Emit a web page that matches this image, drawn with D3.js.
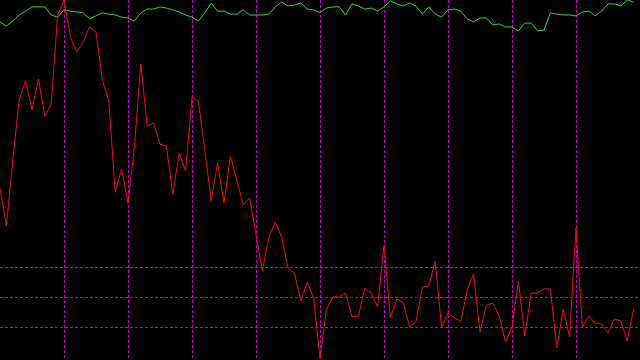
<!DOCTYPE html>
<html>
<head>
<meta charset="utf-8">
<script src="https://cdn.jsdelivr.net/npm/d3@7"></script>
<style>
  html, body { margin: 0; padding: 0; background: #000; }
  svg { display: block; }
</style>
</head>
<body>
<div id="chart"></div>
<script>
"use strict"

var width = 640,
	height = 360;

// indicator values, one per bar
var mainLine = [56.3,43.7,65.7,85.7,92.0,82.3,92.7,80.3,84.3,113.7,
	119.0,106.7,101.7,105.0,110.0,108.3,92.3,85.3,55.0,62.7,
	51.3,70.0,97.7,77.0,78.0,71.0,70.3,54.3,68.0,62.0,
	86.7,85.3,69.0,52.0,64.7,51.3,67.0,59.0,50.7,53.0,
	40.7,28.7,39.7,45.0,40.0,29.7,28.0,18.7,25.0,19.7,
	-0.5,15.7,20.0,20.0,21.3,13.3,13.7,23.0,21.3,16.7,
	37.3,13.0,19.3,18.3,10.0,11.7,23.3,23.7,32.0,9.7,
	14.7,13.0,12.0,22.3,27.7,8.3,17.3,18.0,13.7,5.0,
	10.0,25.3,7.0,21.3,21.3,22.7,22.7,3.0,16.0,6.7,
	43.0,10.0,13.7,11.3,11.0,8.0,12.7,12.0,5.3,16.0];

var signalLine = [111.7,110.3,112.0,114.0,115.3,116.7,116.7,116.7,114.0,113.3,
	115.7,115.3,115.0,114.7,112.7,113.7,114.7,114.3,114.0,113.3,
	113.0,112.0,114.7,116.0,116.0,116.7,116.3,115.7,115.0,114.0,
	113.3,112.0,114.7,118.0,115.3,115.3,114.3,114.3,115.7,114.0,
	114.0,114.0,114.3,116.7,118.3,117.0,117.3,118.0,116.0,115.7,
	114.8,116.3,116.7,116.7,114.0,117.7,117.0,116.0,116.3,115.3,
	116.7,118.7,117.7,117.0,118.0,117.0,114.3,116.7,114.3,113.3,
	115.7,116.0,115.3,112.7,111.7,113.0,113.0,110.7,111.0,110.0,
	110.0,108.7,111.3,111.3,108.7,109.0,114.7,114.3,114.0,114.0,
	113.7,115.0,115.3,113.7,115.3,117.7,117.7,117.0,119.0,118.3];

var levels = [10, 20, 30];
var timeMarks = [10, 20, 30, 40, 50, 60, 70, 80, 90];

var svg = d3.select("#chart").append("svg")
	.attr("width", width)
	.attr("height", height)
	.style("background", "#000");

var xscale = d3.scaleLinear()
	.domain([0, 100])
	.range([0, width]);

var yscale = d3.scaleLinear()
	.domain([-1, 119])
	.range([height, 0]);

// grid, dashed magenta
svg.selectAll("line.vgrid").data(timeMarks)
	.enter().append("line")
	.attr("class", "vgrid")
	.attr("x1", function(d) {return Math.round(xscale(d)) + 0.5})
	.attr("x2", function(d) {return Math.round(xscale(d)) + 0.5})
	.attr("y1", 0)
	.attr("y2", height)
	.attr("stroke", "#cc00cc")
	.attr("stroke-dasharray", "3,2");

svg.selectAll("line.hgrid").data(levels)
	.enter().append("line")
	.attr("class", "hgrid")
	.attr("x1", 0)
	.attr("x2", width)
	.attr("y1", function(d) {return Math.round(yscale(d)) + 0.5})
	.attr("y2", function(d) {return Math.round(yscale(d)) + 0.5})
	.attr("stroke", "#cc00cc")
	.attr("stroke-dasharray", "3,2");

var line = d3.line()
	.x(function(d, i) {return xscale(i)})
	.y(function(d) {return yscale(d)});

svg.append("path")
	.datum(signalLine)
	.attr("d", line)
	.attr("fill", "none")
	.attr("stroke", "#33dd33")
	.attr("stroke-width", 1);

svg.append("path")
	.datum(mainLine)
	.attr("d", line)
	.attr("fill", "none")
	.attr("stroke", "#ee1111")
	.attr("stroke-width", 1);
</script>
</body>
</html>
